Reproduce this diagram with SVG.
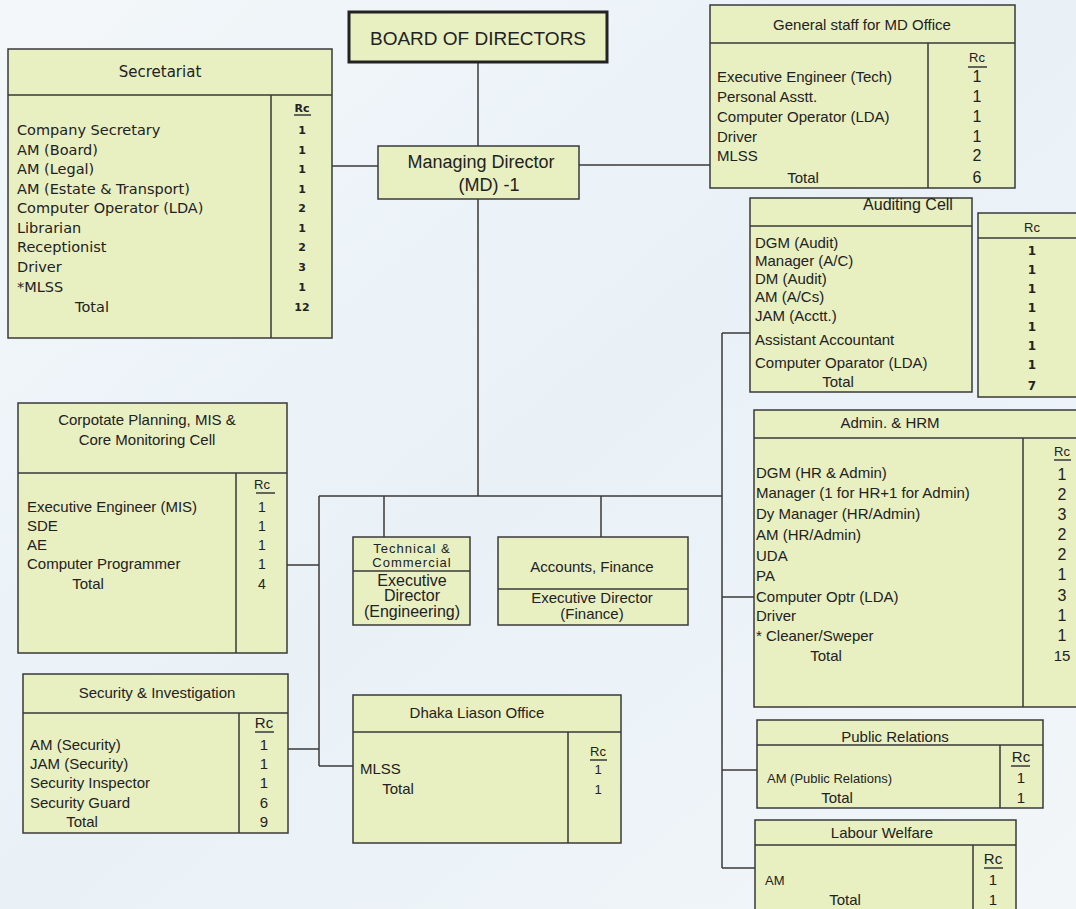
<svg xmlns="http://www.w3.org/2000/svg" width="1076" height="909" viewBox="0 0 1076 909">
<defs>
<linearGradient id="bg" x1="0" y1="0" x2="1" y2="1">
<stop offset="0" stop-color="#f3f7fa"/>
<stop offset="0.5" stop-color="#e9f1f7"/>
<stop offset="1" stop-color="#f2f6f9"/>
</linearGradient>
<style>
.box{fill:#e8efc1;stroke:#3a3a3a;stroke-width:1.5}
.ln{stroke:#3a3a3a;stroke-width:1.5;fill:none}
.t{font-family:"Liberation Sans",Arial,sans-serif;font-size:15px;fill:#222}
.s{font-family:"DejaVu Sans",Verdana,sans-serif;font-size:14.5px;fill:#222}
.n{font-family:"DejaVu Sans",Verdana,sans-serif;font-size:11px;font-weight:bold;fill:#222;text-anchor:middle}
.m{text-anchor:middle}
.sm{font-size:13px}
.num{font-size:16px;text-anchor:middle}
</style>
</defs>
<rect width="1076" height="909" fill="url(#bg)"/>

<g id="connectors">
<path class="ln" d="M478 62V146M478 199V496M332 166H378M579 165H710M319 496H722M722 333V868M722 333H750M722 597H754M722 770H757M722 868H755M319 496V766M287 565H319M288 749H319M319 766H353M384 496V537M601 496V537"/>
</g>

<g id="board">
<rect x="349" y="12" width="258" height="50" fill="#e8efc1" stroke="#222" stroke-width="3"/>
<text class="t m" x="478" y="45" style="font-size:19px">BOARD OF DIRECTORS</text>
</g>

<g id="md">
<rect class="box" x="378" y="146" width="201" height="53"/>
<text class="t m" x="481" y="168" style="font-size:18px">Managing Director</text>
<text class="t m" x="489" y="191" style="font-size:18px">(MD) -1</text>
</g>

<g id="secretariat">
<rect class="box" x="8" y="49" width="324" height="289"/>
<path class="ln" d="M8 95H332M271 95V338M294 115H311"/>
<text class="s m" x="160" y="77" style="font-size:15px">Secretariat</text>
<text class="n" x="302" y="112">Rc</text>
<text class="s" x="17" y="135">Company Secretary</text>
<text class="s" x="17" y="155">AM (Board)</text>
<text class="s" x="17" y="174">AM (Legal)</text>
<text class="s" x="17" y="194">AM (Estate &amp; Transport)</text>
<text class="s" x="17" y="213">Computer Operator (LDA)</text>
<text class="s" x="17" y="233">Librarian</text>
<text class="s" x="17" y="252">Receptionist</text>
<text class="s" x="17" y="272">Driver</text>
<text class="s" x="17" y="292">*MLSS</text>
<text class="s m" x="92" y="312">Total</text>
<text class="n" x="302" y="134">1</text>
<text class="n" x="302" y="154">1</text>
<text class="n" x="302" y="173">1</text>
<text class="n" x="302" y="193">1</text>
<text class="n" x="302" y="212">2</text>
<text class="n" x="302" y="232">1</text>
<text class="n" x="302" y="251">2</text>
<text class="n" x="302" y="271">3</text>
<text class="n" x="302" y="291">1</text>
<text class="n" x="302" y="311">12</text>
</g>

<g id="general-staff">
<rect class="box" x="710" y="5" width="305" height="183"/>
<path class="ln" d="M710 43H1015M928 43V188M968 67H987"/>
<text class="t m" x="862" y="30">General staff for MD Office</text>
<text class="t m sm" x="977" y="62">Rc</text>
<text class="t" x="717" y="82">Executive Engineer (Tech)</text>
<text class="t" x="717" y="102">Personal Asstt.</text>
<text class="t" x="717" y="122">Computer Operator (LDA)</text>
<text class="t" x="717" y="142">Driver</text>
<text class="t" x="717" y="161">MLSS</text>
<text class="t m" x="803" y="183">Total</text>
<text class="t num" x="977" y="82">1</text>
<text class="t num" x="977" y="102">1</text>
<text class="t num" x="977" y="122">1</text>
<text class="t num" x="977" y="142">1</text>
<text class="t num" x="977" y="161">2</text>
<text class="t num" x="977" y="183">6</text>
</g>

<g id="auditing-cell">
<rect class="box" x="750" y="198" width="222" height="194"/>
<path class="ln" d="M750 226H972"/>
<rect class="box" x="978" y="213" width="104" height="184"/>
<path class="ln" d="M978 238H1082"/>
<text class="t m" x="908" y="210" style="font-size:16px">Auditing Cell</text>
<text class="t m sm" x="1032" y="232">Rc</text>
<text class="t" x="755" y="248">DGM (Audit)</text>
<text class="t" x="755" y="266">Manager (A/C)</text>
<text class="t" x="755" y="284">DM (Audit)</text>
<text class="t" x="755" y="302">AM (A/Cs)</text>
<text class="t" x="755" y="321">JAM (Acctt.)</text>
<text class="t" x="755" y="345">Assistant Accountant</text>
<text class="t" x="755" y="368">Computer Oparator (LDA)</text>
<text class="t m" x="838" y="387">Total</text>
<text class="n" x="1032" y="255" style="font-size:12px">1</text>
<text class="n" x="1032" y="274" style="font-size:12px">1</text>
<text class="n" x="1032" y="293" style="font-size:12px">1</text>
<text class="n" x="1032" y="312" style="font-size:12px">1</text>
<text class="n" x="1032" y="331" style="font-size:12px">1</text>
<text class="n" x="1032" y="350" style="font-size:12px">1</text>
<text class="n" x="1032" y="369" style="font-size:12px">1</text>
<text class="n" x="1032" y="390" style="font-size:12px">7</text>
</g>

<g id="corporate-planning">
<rect class="box" x="18" y="403" width="269" height="250"/>
<path class="ln" d="M18 473H287M236 473V653M256 493H275"/>
<text class="t m" x="147" y="425">Corpotate Planning, MIS &amp;</text>
<text class="t m" x="147" y="445">Core Monitoring Cell</text>
<text class="t m sm" x="262" y="489">Rc</text>
<text class="t" x="27" y="512">Executive Engineer (MIS)</text>
<text class="t" x="27" y="531">SDE</text>
<text class="t" x="27" y="550">AE</text>
<text class="t" x="27" y="569">Computer Programmer</text>
<text class="t m" x="88" y="589">Total</text>
<text class="t m" x="262" y="512" style="font-size:14px">1</text>
<text class="t m" x="262" y="531" style="font-size:14px">1</text>
<text class="t m" x="262" y="550" style="font-size:14px">1</text>
<text class="t m" x="262" y="569" style="font-size:14px">1</text>
<text class="t m" x="262" y="589" style="font-size:14px">4</text>
</g>

<g id="technical">
<rect class="box" x="353" y="537" width="117" height="88"/>
<path class="ln" d="M353 571H470"/>
<text class="t m" x="412" y="553" style="font-size:13px;letter-spacing:1px">Technical &amp;</text>
<text class="t m" x="412" y="567" style="font-size:13px;letter-spacing:1px">Commercial</text>
<text class="t m" x="412" y="586" style="font-size:16px">Executive</text>
<text class="t m" x="412" y="601" style="font-size:16px">Director</text>
<text class="t m" x="412" y="617" style="font-size:16px">(Engineering)</text>
</g>

<g id="accounts-finance">
<rect class="box" x="498" y="537" width="190" height="88"/>
<path class="ln" d="M498 589H688"/>
<text class="t m" x="592" y="572">Accounts, Finance</text>
<text class="t m" x="592" y="603">Executive Director</text>
<text class="t m" x="592" y="619">(Finance)</text>
</g>

<g id="admin-hrm">
<rect class="box" x="754" y="410" width="330" height="297"/>
<path class="ln" d="M754 438H1084M1023 438V707M1054 460H1071"/>
<text class="t m" x="890" y="428">Admin. &amp; HRM</text>
<text class="t m sm" x="1062" y="456">Rc</text>
<text class="t" x="756" y="478">DGM (HR &amp; Admin)</text>
<text class="t" x="756" y="498">Manager (1 for HR+1 for Admin)</text>
<text class="t" x="756" y="519">Dy Manager (HR/Admin)</text>
<text class="t" x="756" y="540">AM (HR/Admin)</text>
<text class="t" x="756" y="561">UDA</text>
<text class="t" x="756" y="581">PA</text>
<text class="t" x="756" y="602">Computer Optr (LDA)</text>
<text class="t" x="756" y="621">Driver</text>
<text class="t" x="756" y="641">* Cleaner/Sweper</text>
<text class="t m" x="826" y="661">Total</text>
<text class="t num" x="1062" y="480">1</text>
<text class="t num" x="1062" y="500">2</text>
<text class="t num" x="1062" y="520">3</text>
<text class="t num" x="1062" y="540">2</text>
<text class="t num" x="1062" y="560">2</text>
<text class="t num" x="1062" y="580">1</text>
<text class="t num" x="1062" y="601">3</text>
<text class="t num" x="1062" y="621">1</text>
<text class="t num" x="1062" y="641">1</text>
<text class="t m" x="1062" y="661">15</text>
</g>

<g id="security">
<rect class="box" x="23" y="674" width="265" height="159"/>
<path class="ln" d="M23 713H288M239 713V833M255 732H274"/>
<text class="t m" x="157" y="698">Security &amp; Investigation</text>
<text class="t m" x="264" y="728">Rc</text>
<text class="t" x="30" y="750">AM (Security)</text>
<text class="t" x="30" y="769">JAM (Security)</text>
<text class="t" x="30" y="788">Security Inspector</text>
<text class="t" x="30" y="808">Security Guard</text>
<text class="t m" x="82" y="827">Total</text>
<text class="t m" x="264" y="750">1</text>
<text class="t m" x="264" y="769">1</text>
<text class="t m" x="264" y="788">1</text>
<text class="t m" x="264" y="808">6</text>
<text class="t m" x="264" y="827">9</text>
</g>

<g id="dhaka-liason">
<rect class="box" x="353" y="695" width="268" height="148"/>
<path class="ln" d="M353 732H621M568 732V843M590 760H607"/>
<text class="t m" x="477" y="718">Dhaka Liason Office</text>
<text class="t m sm" x="598" y="756">Rc</text>
<text class="t" x="360" y="774">MLSS</text>
<text class="t m" x="398" y="794">Total</text>
<text class="t m sm" x="598" y="774">1</text>
<text class="t m sm" x="598" y="794">1</text>
</g>

<g id="public-relations">
<rect class="box" x="757" y="720" width="286" height="88"/>
<path class="ln" d="M757 745H1043M1000 745V808M1011 766H1030"/>
<text class="t m" x="895" y="742">Public Relations</text>
<text class="t m" x="1021" y="762">Rc</text>
<text class="t sm" x="767" y="783">AM (Public Relations)</text>
<text class="t m" x="837" y="803">Total</text>
<text class="t m" x="1021" y="783">1</text>
<text class="t m" x="1021" y="803">1</text>
</g>

<g id="labour-welfare">
<rect class="box" x="755" y="820" width="261" height="98"/>
<path class="ln" d="M755 845H1016M973 845V918M984 868H1003"/>
<text class="t m" x="882" y="838">Labour Welfare</text>
<text class="t m" x="993" y="864">Rc</text>
<text class="t sm" x="765" y="885">AM</text>
<text class="t m" x="845" y="905">Total</text>
<text class="t m" x="993" y="885">1</text>
<text class="t m" x="993" y="905">1</text>
</g>
</svg>
